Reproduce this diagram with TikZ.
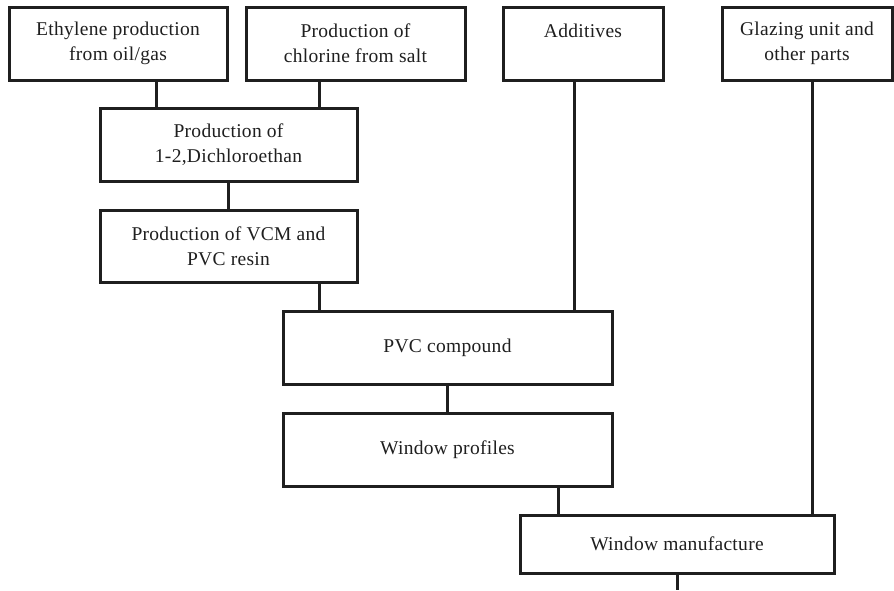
\documentclass[tikz,border=0pt]{standalone}
\usepackage{fontspec}
\setmainfont{Liberation Serif}
\newfontfamily\boxfont{Liberation Serif}[LetterSpace=1.5]
\begin{document}
\begin{tikzpicture}[x=1pt,y=-1pt,
  box/.style={draw=black!88, line width=3pt, fill=white, inner sep=0pt,
    align=center, text=black!88,
    font=\boxfont\fontsize{19.5}{25}\selectfont},
  link/.style={draw=black!88, line width=3pt}]
\useasboundingbox[fill=white] (0,0) rectangle (894,590);
% top row
\node[box, minimum width=218pt, minimum height=73pt] (b1) at (118,43.5) {Ethylene production\\from oil/gas};
\node[box, minimum width=219pt, minimum height=73pt] (b2) at (355.5,43.5) {Production of\\chlorine from salt};
\node[box, minimum width=160pt, minimum height=73pt] (add) at (583,43.5) {Additives\\\mbox{}};
\node[box, minimum width=170pt, minimum height=73pt] (glz) at (807,43.5) {Glazing unit and\\other parts};
% chain
\node[box, minimum width=257pt, minimum height=73pt] (dce) at (228.5,144.5) {Production of\\1-2,Dichloroethan};
\node[box, minimum width=257pt, minimum height=72pt] (vcm) at (228.5,246) {Production of VCM and\\PVC resin};
\node[box, minimum width=329pt, minimum height=73pt] (pvc) at (447.5,347.5) {PVC compound};
\node[box, minimum width=329pt, minimum height=73pt] (prof) at (447.5,449.5) {Window profiles};
\node[box, minimum width=314pt, minimum height=58pt] (wm) at (677,544) {Window manufacture};
\coordinate (out) at (677,590);
% connectors
\draw[link] ([xshift=38pt]b1.south) -- ([xshift=38pt]b1.south |- dce.north);
\draw[link] ([xshift=-36.5pt]b2.south) -- ([xshift=-36.5pt]b2.south |- dce.north);
\draw[link] (dce.south) -- (vcm.north);
\draw[link] ([xshift=90.5pt]vcm.south) -- ([xshift=90.5pt]vcm.south |- pvc.north);
\draw[link] ([xshift=-9pt]add.south) -- ([xshift=-9pt]add.south |- pvc.north);
\draw[link] (pvc.south) -- (prof.north);
\draw[link] ([xshift=110.5pt]prof.south) -- ([xshift=110.5pt]prof.south |- wm.north);
\draw[link] ([xshift=5pt]glz.south) -- ([xshift=5pt]glz.south |- wm.north);
\draw[link] (wm.south) -- (out);
\end{tikzpicture}
\end{document}
